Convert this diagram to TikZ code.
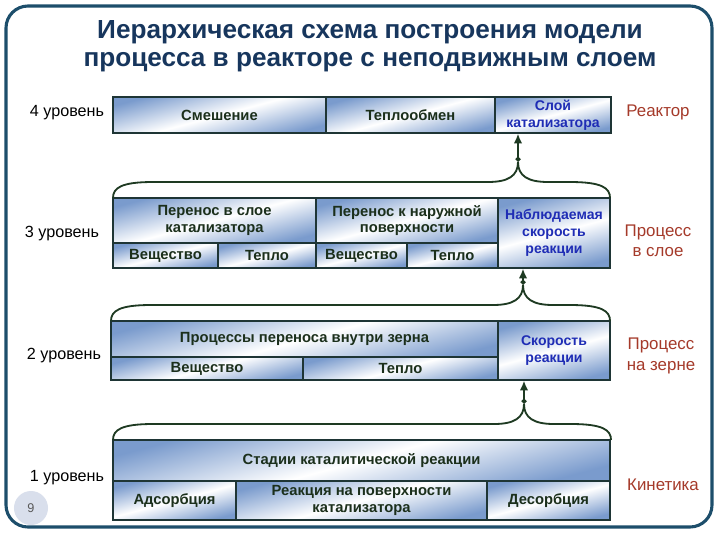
\documentclass[tikz,border=0pt]{standalone}
\usepackage{fontspec}
\setmainfont{Liberation Sans}
\usepackage{xcolor}
\usepackage{tikz}
\usetikzlibrary{arrows.meta,positioning,calc}
\definecolor{navy2}{HTML}{17365D}
\definecolor{frame2}{HTML}{1D4E6B}
\definecolor{cellblue}{HTML}{7A9BCD}
\definecolor{edge2}{HTML}{1E3535}
\definecolor{ink2}{HTML}{1B2F1B}
\definecolor{blue2}{HTML}{1F2DB5}
\definecolor{red2}{HTML}{A53A2A}
\definecolor{brace2}{HTML}{1E3A22}
\definecolor{page2}{HTML}{D9DFEC}

% cell: name, x1, y1, x2, y2, text (pixel units)
\newcommand{\hcell}[7][]{%
  \node[cellbox,#1,minimum width={(#5-#3)*0.025cm},minimum height={(#6-#4)*0.025cm}]
    (#2) at ({(#3+#5)/2},{(#4+#6)/2}) {#7};}

% brace over a level: x1, x2, top of box, x of tip, name of tip
\newcommand{\levelbrace}[5]{%
  \draw[bracel] (#1,#3) .. controls (#1,#3-10) and (#1+8,#3-16) .. (#1+40,#3-16)
    -- (#4-30,#3-16) .. controls (#4-10,#3-16) and (#4,#3-22) .. (#4,#3-36) coordinate (#5)
    .. controls (#4,#3-22) and (#4+10,#3-16) .. (#4+30,#3-16)
    -- (#2-40,#3-16) .. controls (#2-8,#3-16) and (#2,#3-10) .. (#2,#3);}

\begin{document}
\begin{tikzpicture}[
        x=0.025cm, y=-0.025cm,
        cellbox/.style={draw=edge2, line width=0.8pt, top color=cellblue, bottom color=cellblue,
                        middle color=white, shading angle=15, inner sep=1pt, align=center,
                        text=ink2, font=\bfseries\fontsize{10.5}{12}\selectfont},
        bluecell/.style={text=blue2, font=\bfseries\fontsize{10}{12}\selectfont},
        lvl/.style={anchor=east, font=\fontsize{11.5}{13}\selectfont},
        rlab/.style={align=center, text=red2, font=\fontsize{12}{14.5}\selectfont},
        bracel/.style={draw=brace2, line width=1.3pt},
        linkarr/.style={draw=brace2, line width=1.3pt,
                        {Diamond[length=4pt,width=4pt]}-{Latex[length=7pt,width=6pt]}},
        title/.style={align=center, text=navy2, font=\bfseries\fontsize{18.6}{20}\selectfont}
    ]
  \useasboundingbox (0,0) rectangle (720,540);
  \draw[frame2, line width=2.2pt, rounded corners=0.55cm, fill=white] (6,6) rectangle (712,527);

  \node[title] (title) at (370,46) {Иерархическая схема построения модели\\процесса в реакторе с неподвижным слоем};

  % level 4
  \hcell{mix}{113}{97}{326}{133}{Смешение}
  \hcell{heatx}{326}{97}{495}{133}{Теплообмен}
  \hcell[bluecell]{layer}{495}{97}{611}{133}{Слой\\катализатора}
  \node[lvl] (l4) at (109,113) {4 уровень};
  \node[rlab] (r4) at (658,112) {Реактор};

  % level 3
  \hcell{tr3a}{113}{198}{316}{243}{Перенос в слое\\катализатора}
  \hcell{tr3b}{316}{198}{498}{243}{Перенос к наружной\\поверхности}
  \hcell{sub3a}{113}{243}{218}{268}{Вещество}
  \hcell{heat3a}{218}{243}{316}{268}{Тепло}
  \hcell{sub3b}{316}{243}{407}{268}{Вещество}
  \hcell{heat3b}{407}{243}{498}{268}{Тепло}
  \hcell[bluecell]{obs}{498}{198}{610}{268}{Наблюдаемая\\скорость\\реакции}
  \node[lvl] (l3) at (104,234) {3 уровень};
  \node[rlab] (r3) at (658,241) {Процесс\\в слое};

  % level 2
  \hcell{grain}{111}{321}{498}{357}{Процессы переноса внутри зерна}
  \hcell{sub2}{111}{357}{303}{380}{Вещество}
  \hcell{heat2}{303}{357}{498}{380}{Тепло}
  \hcell[bluecell]{rate}{498}{321}{610}{380}{Скорость\\реакции}
  \node[lvl] (l2) at (106,356) {2 уровень};
  \node[rlab] (r2) at (661,356) {Процесс\\на зерне};

  % level 1
  \hcell{stages}{113}{440}{610}{481}{Стадии каталитической реакции}
  \hcell{ads}{113}{481}{236}{520}{Адсорбция}
  \hcell{surf}{236}{481}{487}{520}{Реакция на поверхности\\катализатора}
  \hcell{des}{487}{481}{610}{520}{Десорбция}
  \node[lvl] (l1) at (109,478) {1 уровень};
  \node[rlab] (r1) at (663,485) {Кинетика};

  % braces and links
  \levelbrace{113}{610}{198}{518}{tip3}
  \draw[linkarr] (tip3) -- (tip3 |- layer.south);
  \levelbrace{111}{610}{321}{523}{tip2}
  \draw[linkarr] (tip2) -- (tip2 |- obs.south);
  \levelbrace{113}{611}{440}{524}{tip1}
  \draw[linkarr] (tip1) -- (tip1 |- rate.south);

  \node[circle, fill=page2, minimum size=0.85cm, text=black!65, font=\small] (page) at (31,508) {9};
\end{tikzpicture}
\end{document}
